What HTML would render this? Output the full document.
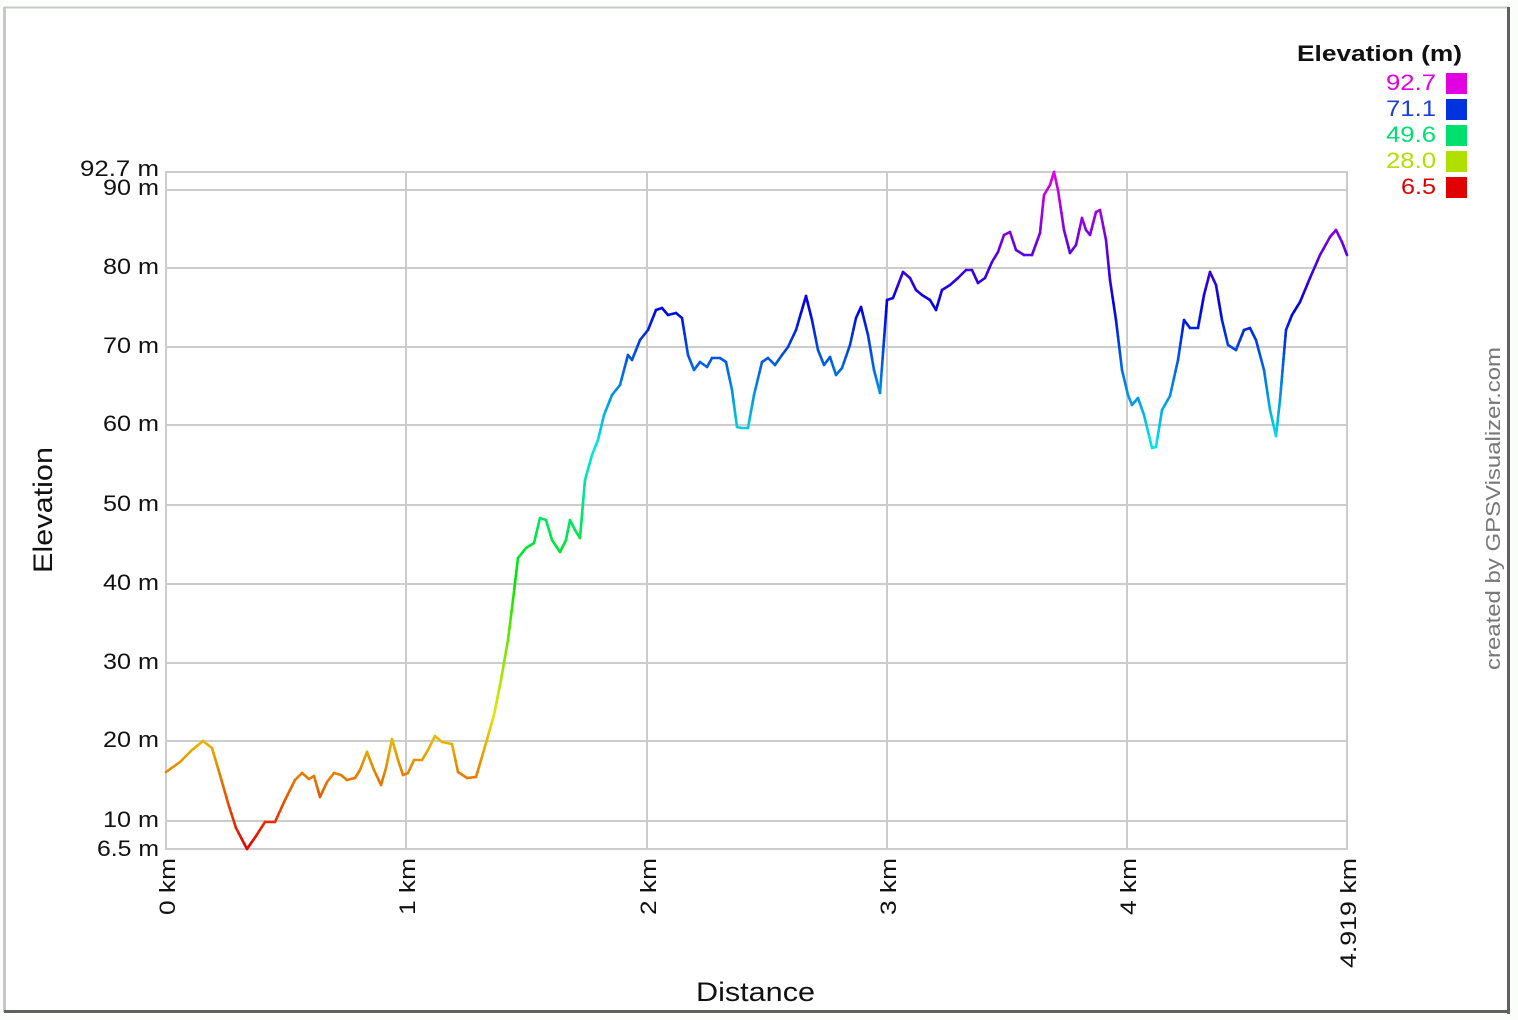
<!DOCTYPE html>
<html><head><meta charset="utf-8"><style>
html,body{margin:0;padding:0;background:#fff;}
svg{display:block;font-family:"Liberation Sans",Arial,sans-serif;}
</style></head><body>
<svg id="s" width="1518" height="1020" xmlns="http://www.w3.org/2000/svg">
<rect x="0" y="0" width="1518" height="1020" fill="#fbfdfb"/>
<rect x="4" y="7" width="1505" height="1005" fill="#fff"/>
<line x1="4.5" y1="7" x2="4.5" y2="1012" stroke="#c8c8c8" stroke-width="3"/>
<line x1="4" y1="7.5" x2="1509" y2="7.5" stroke="#c8c8c8" stroke-width="2"/>
<line x1="1508.5" y1="7" x2="1508.5" y2="1014" stroke="#606060" stroke-width="3"/>
<line x1="4" y1="1011.5" x2="1510" y2="1011.5" stroke="#606060" stroke-width="3"/>
<g id="grid" stroke="#cccccc" stroke-width="2" fill="none"></g>
<g id="line" stroke-width="2.6" stroke-linecap="round" fill="none"></g>
<g font-size="22" fill="#111" text-anchor="end" lengthAdjust="spacingAndGlyphs">
<text x="159" y="176" textLength="79" lengthAdjust="spacingAndGlyphs">92.7 m</text>
<text x="159" y="195" textLength="56" lengthAdjust="spacingAndGlyphs">90 m</text>
<text x="159" y="274" textLength="56" lengthAdjust="spacingAndGlyphs">80 m</text>
<text x="159" y="353" textLength="56" lengthAdjust="spacingAndGlyphs">70 m</text>
<text x="159" y="431" textLength="56" lengthAdjust="spacingAndGlyphs">60 m</text>
<text x="159" y="511" textLength="56" lengthAdjust="spacingAndGlyphs">50 m</text>
<text x="159" y="590" textLength="56" lengthAdjust="spacingAndGlyphs">40 m</text>
<text x="159" y="669" textLength="56" lengthAdjust="spacingAndGlyphs">30 m</text>
<text x="159" y="747" textLength="56" lengthAdjust="spacingAndGlyphs">20 m</text>
<text x="159" y="827" textLength="56" lengthAdjust="spacingAndGlyphs">10 m</text>
<text x="159" y="856" textLength="62" lengthAdjust="spacingAndGlyphs">6.5 m</text>
</g>
<g font-size="22" fill="#111" text-anchor="end">
<text transform="translate(175,858) rotate(-90)" textLength="57" lengthAdjust="spacingAndGlyphs">0 km</text>
<text transform="translate(415,858) rotate(-90)" textLength="57" lengthAdjust="spacingAndGlyphs">1 km</text>
<text transform="translate(656,858) rotate(-90)" textLength="57" lengthAdjust="spacingAndGlyphs">2 km</text>
<text transform="translate(896,858) rotate(-90)" textLength="57" lengthAdjust="spacingAndGlyphs">3 km</text>
<text transform="translate(1136,858) rotate(-90)" textLength="57" lengthAdjust="spacingAndGlyphs">4 km</text>
<text transform="translate(1356,858) rotate(-90)" textLength="110" lengthAdjust="spacingAndGlyphs">4.919 km</text>
</g>
<text transform="translate(52,573) rotate(-90)" font-size="27" fill="#111" textLength="126" lengthAdjust="spacingAndGlyphs">Elevation</text>
<text x="696" y="1001" font-size="27" fill="#111" textLength="119" lengthAdjust="spacingAndGlyphs">Distance</text>
<text transform="translate(1500,670) rotate(-90)" font-size="20" fill="#777" textLength="323" lengthAdjust="spacingAndGlyphs">created by GPSVisualizer.com</text>
<text x="1297" y="61" font-size="22" font-weight="bold" fill="#111" textLength="165" lengthAdjust="spacingAndGlyphs">Elevation (m)</text>
<g font-size="22">
<text x="1386" y="90" fill="#e000e0" textLength="50" lengthAdjust="spacingAndGlyphs">92.7</text><rect x="1446" y="73" width="21" height="21" fill="#e000e0"/>
<text x="1386" y="116" fill="#1d3fe0" textLength="50" lengthAdjust="spacingAndGlyphs">71.1</text><rect x="1446" y="99" width="21" height="21" fill="#0033e0"/>
<text x="1386" y="142" fill="#00e070" textLength="50" lengthAdjust="spacingAndGlyphs">49.6</text><rect x="1446" y="125" width="21" height="21" fill="#00e070"/>
<text x="1386" y="168" fill="#b0e000" textLength="50" lengthAdjust="spacingAndGlyphs">28.0</text><rect x="1446" y="151" width="21" height="21" fill="#b0e000"/>
<text x="1401" y="194" fill="#e00000" textLength="35" lengthAdjust="spacingAndGlyphs">6.5</text><rect x="1446" y="177" width="21" height="21" fill="#e00000"/>
</g>
</svg>
<script>
var NS="http://www.w3.org/2000/svg";
var g=document.getElementById('grid');
function ln(p,x1,y1,x2,y2,c,w){var l=document.createElementNS(NS,'line');l.setAttribute('x1',x1);l.setAttribute('y1',y1);l.setAttribute('x2',x2);l.setAttribute('y2',y2);if(c)l.setAttribute('stroke',c);if(w)l.setAttribute('stroke-width',w);p.appendChild(l);}
var ys=[190,268,347,425,505,584,663,741,821];
ys.forEach(function(y){ln(g,166,y,1347,y);});
[406,647,887,1127].forEach(function(x){ln(g,x,172,x,849);});
var r=document.createElementNS(NS,'rect');r.setAttribute('x',166);r.setAttribute('y',172);r.setAttribute('width',1181);r.setAttribute('height',677);g.appendChild(r);
var P=[[166,772],[180,762],[192,750],[203,741],[212,748],[220,775],[228,803],[236,828],[247,849],[256,836],[265,822],[275,822],[285,800],[295,780],[302,773],[309,779],[314,776],[320,797],[327,782],[334,773],[341,775],[347,780],[355,778],[360,770],[367,752],[374,770],[381,785],[386,768],[392,739],[398,760],[403,775],[408,773],[414,760],[422,760],[428,750],[435,736],[442,742],[452,744],[458,772],[467,778],[476,777],[484,750],[494,715],[501,680],[508,640],[513,600],[518,558],[526,548],[534,543],[540,518],[546,520],[552,540],[560,552],[566,540],[570,520],[575,530],[580,538],[585,480],[592,455],[598,440],[604,415],[612,395],[620,385],[628,355],[632,360],[640,340],[648,330],[656,310],[662,308],[668,315],[676,313],[682,318],[688,355],[694,370],[700,362],[707,367],[712,358],[720,358],[726,362],[732,390],[737,427],[742,428],[748,428],[754,395],[762,362],[768,358],[775,365],[782,355],[788,347],[796,330],[806,296],[812,320],[818,350],[824,365],[830,357],[836,375],[842,368],[850,345],[856,318],[861,307],[868,335],[874,370],[880,393],[887,300],[893,298],[898,285],[903,272],[910,278],[916,290],[922,295],[930,300],[936,310],[942,290],[950,285],[958,278],[966,270],[972,270],[978,283],[985,278],[992,262],[998,252],[1004,235],[1010,232],[1016,250],[1024,255],[1032,255],[1040,233],[1044,195],[1050,185],[1054,172],[1058,190],[1064,230],[1070,253],[1076,245],[1082,218],[1086,230],[1090,235],[1096,212],[1100,210],[1106,240],[1110,280],[1116,320],[1122,370],[1128,395],[1132,405],[1138,398],[1144,415],[1152,448],[1156,447],[1162,410],[1170,396],[1178,360],[1184,320],[1190,328],[1198,328],[1204,295],[1210,272],[1216,285],[1222,320],[1228,345],[1236,350],[1244,330],[1250,328],[1256,340],[1264,370],[1270,410],[1276,436],[1280,400],[1286,330],[1292,315],[1300,302],[1310,278],[1320,255],[1330,237],[1336,230],[1342,242],[1347,255]];
var L=document.getElementById('line');
for(var i=0;i<P.length-1;i++){var a=P[i],b=P[i+1];var n=Math.max(1,Math.ceil(Math.abs(b[1]-a[1])/6));
for(var k=0;k<n;k++){var x1=a[0]+(b[0]-a[0])*k/n,y1=a[1]+(b[1]-a[1])*k/n,x2=a[0]+(b[0]-a[0])*(k+1)/n,y2=a[1]+(b[1]-a[1])*(k+1)/n;
var e=(849-(y1+y2)/2)/677;var h=Math.max(0,Math.min(300,300*e));
ln(L,x1,y1,x2,y2,'hsl('+h.toFixed(0)+',100%,45%)');}}
</script>
</body></html>
